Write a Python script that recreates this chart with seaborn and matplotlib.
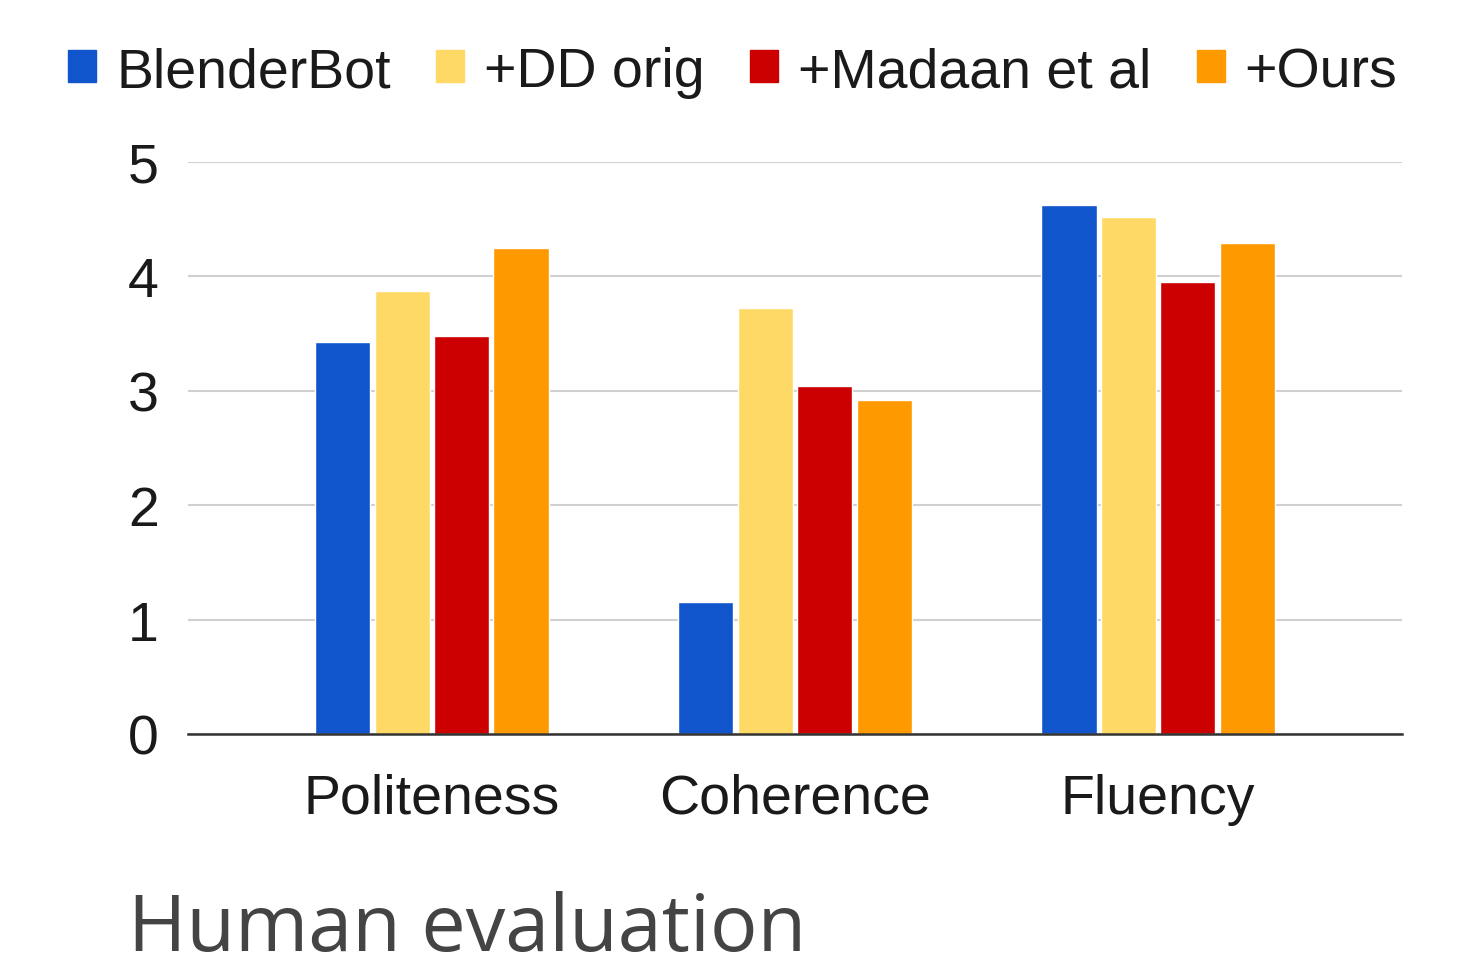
import matplotlib
matplotlib.use("Agg")
import matplotlib.pyplot as plt
import pandas as pd
import seaborn as sns

categories = ["Politeness", "Coherence", "Fluency"]
systems = ["BlenderBot", "+DD orig", "+Madaan et al", "+Ours"]
blenderbot = [3.43, 1.15, 4.62]
dd_orig = [3.87, 3.72, 4.52]
madaan = [3.48, 3.04, 3.95]
ours = [4.25, 2.92, 4.29]
colors = ["#1155CC", "#FFD966", "#CC0000", "#FF9900"]

rows = []
for name, vals in zip(systems, [blenderbot, dd_orig, madaan, ours]):
    for cat, v in zip(categories, vals):
        rows.append({"metric": cat, "system": name, "score": v})
df = pd.DataFrame(rows)

sns.set_style("white")
plt.rcParams["font.family"] = ["Liberation Sans", "DejaVu Sans"]

fig = plt.figure(figsize=(14.57, 9.70), dpi=100)
ax = fig.add_axes([188 / 1457, 1 - 735 / 970, (1402 - 188) / 1457, (735 - 163) / 970])

sns.barplot(data=df, x="metric", y="score", hue="system", order=categories,
            hue_order=systems, palette=colors, width=0.655, gap=0.07,
            saturation=1, ax=ax, legend=False)

ax.set_ylim(0, 5)
ax.set_xlim(-0.672, 2.672)
ax.set_yticks(range(6))
ax.yaxis.grid(True, color="#d0d0d0", linewidth=1.5)
ax.set_axisbelow(True)
for s in ["top", "right", "left"]:
    ax.spines[s].set_visible(False)
ax.spines["bottom"].set_color("#333333")
ax.spines["bottom"].set_linewidth(1.8)
ax.tick_params(axis="both", length=0, labelsize=40, colors="#1a1a1a")
ax.tick_params(axis="y", pad=21)
ax.tick_params(axis="x", pad=28)
ax.set_xlabel("")
ax.set_ylabel("")

handles = [plt.Rectangle((0, 0), 1, 1, color=c) for c in colors]
fig.legend(handles, systems, loc="center", bbox_to_anchor=(0.503, 1 - 73 / 970),
           ncol=4, frameon=False, fontsize=40, handlelength=0.5, handleheight=0.5,
           handletextpad=0.36, columnspacing=0.82, labelcolor="#1a1a1a",
           borderaxespad=0, borderpad=0)

fig.text(128 / 1457, 1 - 951 / 970, "Human evaluation", fontsize=57,
         family=["Open Sans", "DejaVu Sans"], color="#444444", va="baseline")

fig.savefig("out.png", dpi=100, facecolor="white")
